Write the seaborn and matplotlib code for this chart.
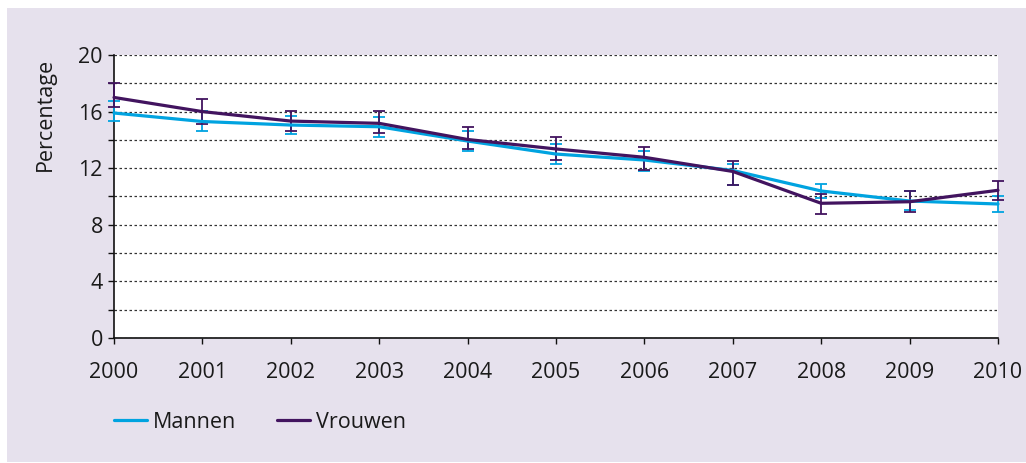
import matplotlib
matplotlib.use('Agg')
import matplotlib.pyplot as plt
from matplotlib.patches import Rectangle
from matplotlib.lines import Line2D
import seaborn as sns
import pandas as pd

# Data
jaren = [2000, 2001, 2002, 2003, 2004, 2005, 2006, 2007, 2008, 2009, 2010]
mannen = [15.9, 15.3, 15.05, 14.93, 13.92, 13.0, 12.58, 11.84, 10.39, 9.68, 9.47]
mannen_laag = [15.33, 14.65, 14.39, 14.23, 13.23, 12.3, 11.82, 10.81, 9.9, 9.02, 8.93]
mannen_hoog = [16.75, 16.04, 15.7, 15.64, 14.65, 13.69, 13.23, 12.27, 10.86, 10.37, 10.04]
vrouwen = [17.0, 16.0, 15.33, 15.17, 14.03, 13.36, 12.77, 11.77, 9.52, 9.63, 10.44]
vrouwen_laag = [16.35, 15.15, 14.65, 14.5, 13.33, 12.58, 11.87, 10.81, 8.76, 8.9, 9.75]
vrouwen_hoog = [18.0, 16.87, 16.04, 16.04, 14.93, 14.2, 13.52, 12.53, 10.18, 10.41, 11.12]

kleuren = {'Mannen': '#00a3e0', 'Vrouwen': '#42145f'}

df = pd.DataFrame({
    'Jaar': jaren * 2,
    'Percentage': mannen + vrouwen,
    'Geslacht': ['Mannen'] * len(jaren) + ['Vrouwen'] * len(jaren),
})

sns.set_style('white')
plt.rcParams['font.family'] = ['Open Sans', 'DejaVu Sans']

fig = plt.figure(figsize=(10.26, 4.63), dpi=100)
fig.patch.set_facecolor('white')
achtergrond = Rectangle((7 / 1026, 1 / 463), 1, 454 / 463, transform=fig.transFigure,
                        facecolor='#e6e1ed', edgecolor='none', zorder=-10)
fig.add_artist(achtergrond)

ax = fig.add_axes([114 / 1026, 125 / 463, 884 / 1026, 283 / 463])
ax.set_zorder(1)
ax.set_facecolor('white')

# foutbalken
for naam, mid, laag, hoog in [('Mannen', mannen, mannen_laag, mannen_hoog),
                              ('Vrouwen', vrouwen, vrouwen_laag, vrouwen_hoog)]:
    err = [[m - l for m, l in zip(mid, laag)], [h - m for m, h in zip(mid, hoog)]]
    ax.errorbar(jaren, mid, yerr=err, fmt='none', ecolor=kleuren[naam],
                elinewidth=1.3, capsize=4, capthick=1.3, zorder=3, clip_on=False)

sns.lineplot(data=df, x='Jaar', y='Percentage', hue='Geslacht', palette=kleuren,
             linewidth=2.3, ax=ax, legend=False, zorder=4)
for ln in ax.lines:
    ln.set_clip_on(False)

ax.set_xlim(2000, 2010)
ax.set_ylim(0, 20)
ax.set_xticks(jaren)
ax.set_xticklabels([str(j) for j in jaren])
ax.set_yticks(range(0, 21, 4))
ax.set_yticks(range(2, 20, 4), minor=True)
ax.grid(True, which='both', axis='y', color='#333333', linestyle=(0, (2, 2)), linewidth=0.9)
ax.grid(False, axis='x')
ax.set_axisbelow(True)

for s in ['top', 'right']:
    ax.spines[s].set_visible(False)
for s in ['left', 'bottom']:
    ax.spines[s].set_color('#111111')
    ax.spines[s].set_linewidth(1.2)

ax.tick_params(axis='both', which='both', direction='out', length=4, width=1,
               color='#111111', labelsize=15.5, labelcolor='#1a1a1a', left=True, bottom=True)
ax.tick_params(axis='x', pad=13)
ax.tick_params(axis='y', pad=4)
ax.set_xlabel('')
ax.set_ylabel('Percentage', fontsize=15.5, color='#1a1a1a')
ax.yaxis.set_label_coords(-0.066, 0.79)

handles = [Line2D([], [], color=kleuren[k], linewidth=2.3) for k in ['Mannen', 'Vrouwen']]
fig.legend(handles, ['Mannen', 'Vrouwen'], loc='center left', bbox_to_anchor=(95 / 1026, 41 / 463),
           ncol=2, frameon=False, fontsize=15.5, handlelength=1.5, handletextpad=0.3,
           columnspacing=1.9, labelcolor='#1a1a1a')

fig.savefig('out.png', dpi=100, facecolor=fig.get_facecolor())
